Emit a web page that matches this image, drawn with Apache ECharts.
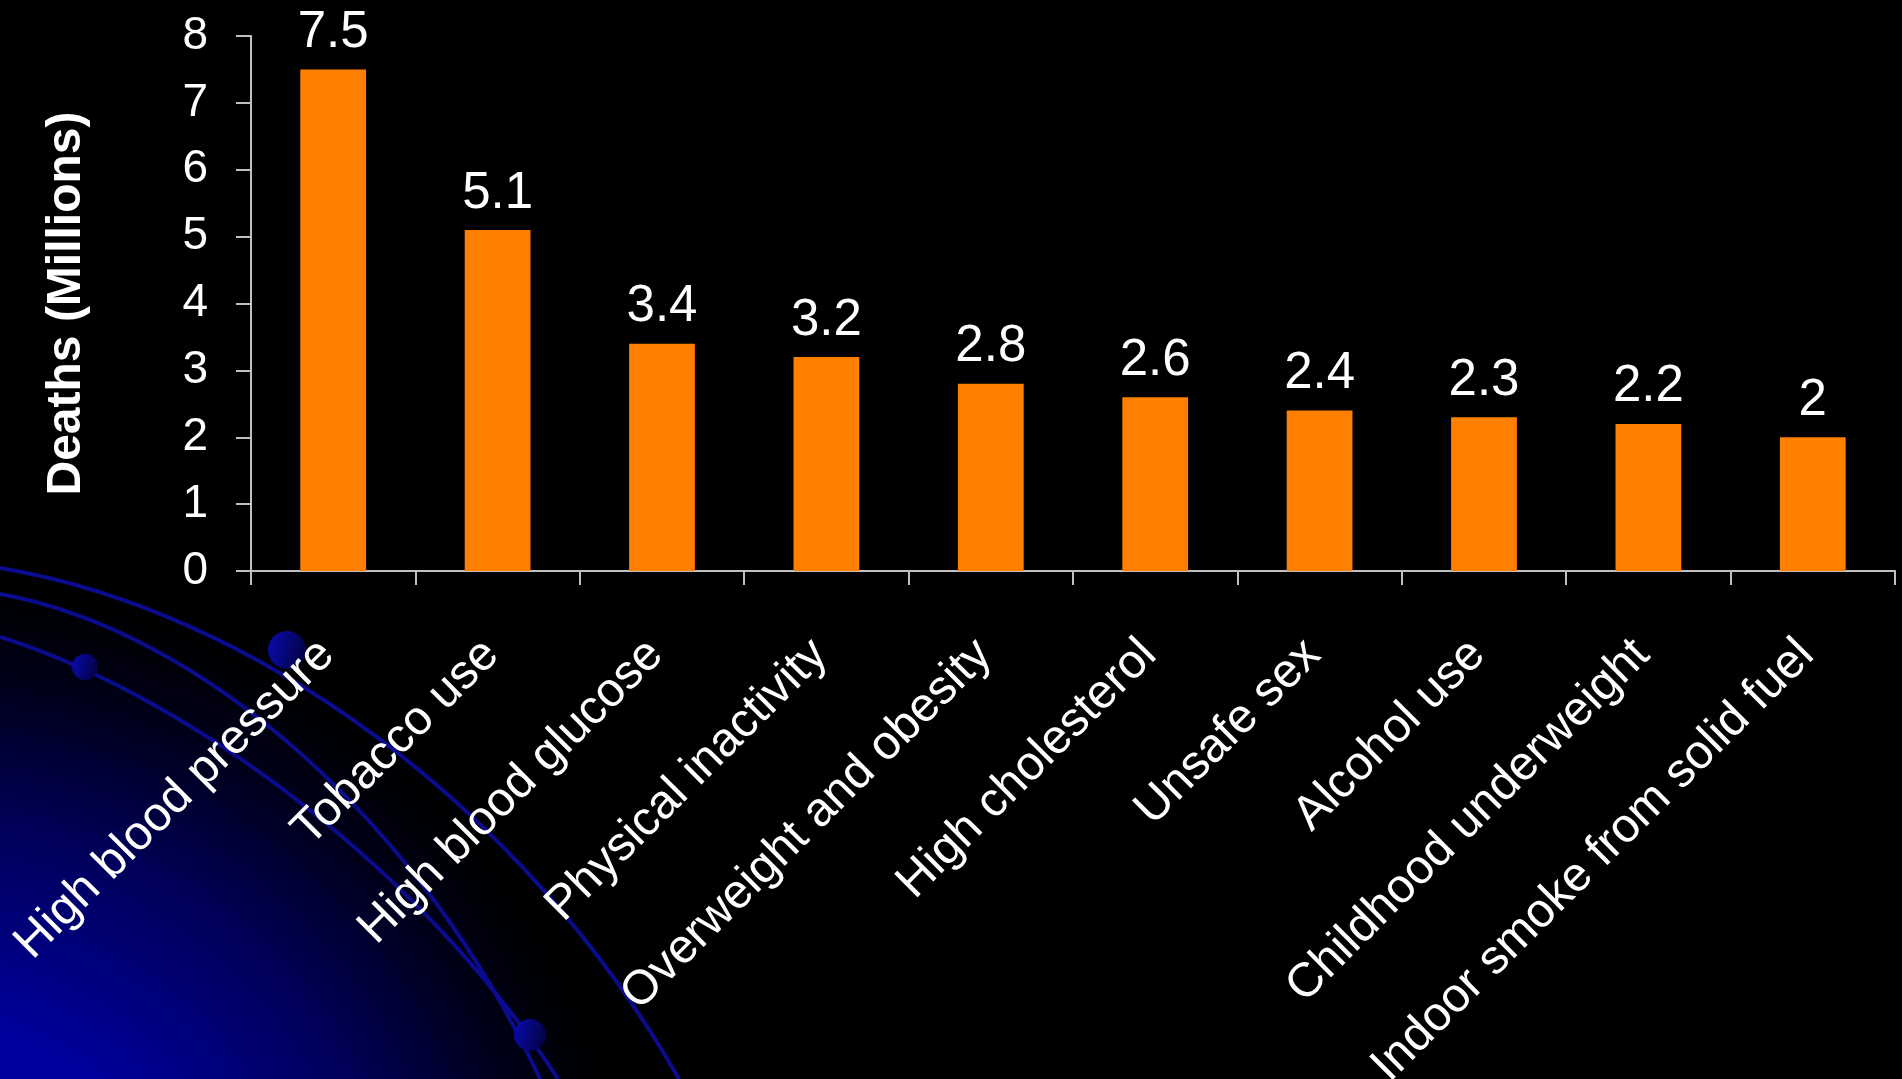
<!DOCTYPE html>
<html>
<head>
<meta charset="utf-8">
<script src="https://cdn.jsdelivr.net/npm/echarts@6/dist/echarts.min.js"></script>
<style>
  html, body { margin: 0; padding: 0; background: #000; }
  #main { width: 1902px; height: 1079px; }
</style>
</head>
<body>
<div id="main"></div>
<script type="text/javascript">
    // data
    var categories = [
        'High blood pressure', 'Tobacco use', 'High blood glucose',
        'Physical inactivity', 'Overweight and obesity', 'High cholesterol',
        'Unsafe sex', 'Alcohol use', 'Childhood underweight',
        'Indoor smoke from solid fuel'
    ];
    var deaths = [7.5, 5.1, 3.4, 3.2, 2.8, 2.6, 2.4, 2.3, 2.2, 2];
    var yTicks = [0, 1, 2, 3, 4, 5, 6, 7, 8];

    var font = 'Liberation Sans, Arial, sans-serif';
    var myChart = echarts.init(document.getElementById('main'));

    // blue "planet" decoration in the lower left corner
    var arcStyle = { stroke: '#0b0b8e', lineWidth: 4, fill: null };
    function dotFill() {
        return new echarts.graphic.LinearGradient(0, 0, 1, 0.3, [
            { offset: 0, color: '#0a0ab4' },
            { offset: 1, color: '#03034a' }
        ]);
    }
    var decor = [
        {
            type: 'rect', z: -10, silent: true,
            shape: { x: 0, y: 0, width: 1902, height: 1079 },
            style: {
                fill: new echarts.graphic.RadialGradient(-80, 1300, 800, [
                    { offset: 0, color: '#0000b4' },
                    { offset: 0.35, color: '#00009c' },
                    { offset: 0.6, color: '#00005a' },
                    { offset: 0.78, color: '#00001a' },
                    { offset: 0.9, color: '#000000' },
                    { offset: 1, color: '#000000' }
                ], true)
            }
        },
        { type: 'bezierCurve', z: -5, silent: true,
          shape: { x1: 0, y1: 568, cpx1: 250, cpy1: 610, cpx2: 520, cpy2: 800, x2: 679, y2: 1079 },
          style: arcStyle },
        { type: 'bezierCurve', z: -5, silent: true,
          shape: { x1: 0, y1: 594, cpx1: 200, cpy1: 630, cpx2: 420, cpy2: 820, x2: 540, y2: 1079 },
          style: arcStyle },
        { type: 'bezierCurve', z: -5, silent: true,
          shape: { x1: 0, y1: 637, cpx1: 200, cpy1: 700, cpx2: 430, cpy2: 880, x2: 558, y2: 1079 },
          style: arcStyle },
        { type: 'circle', z: -4, silent: true, shape: { cx: 287, cy: 650, r: 19 }, style: { fill: dotFill() } },
        { type: 'circle', z: -4, silent: true, shape: { cx: 85, cy: 667, r: 13 }, style: { fill: dotFill() } },
        { type: 'circle', z: -4, silent: true, shape: { cx: 530, cy: 1035, r: 16 }, style: { fill: dotFill() } }
    ];

    var option = {
        backgroundColor: '#000',
        animation: false,
        graphic: decor,
        grid: {
            left: 251, right: 7, top: 36, bottom: 508,
            containLabel: false, outerBoundsMode: 'none'
        },
        xAxis: {
            type: 'category',
            data: categories,
            axisLine: { lineStyle: { color: '#c0c0c0', width: 2 } },
            axisTick: { show: true, length: 14, alignWithLabel: false, lineStyle: { color: '#c0c0c0', width: 2 } },
            axisLabel: {
                interval: 0, rotate: 45, margin: 70,
                padding: [0, 9, 0, 0],
                color: '#fff', fontSize: 48, fontFamily: font
            }
        },
        yAxis: {
            type: 'value',
            min: yTicks[0], max: yTicks[yTicks.length - 1], interval: 1,
            name: 'Deaths (Millions)',
            nameLocation: 'middle',
            nameRotate: 90,
            nameGap: 160,
            nameTextStyle: { color: '#fff', fontSize: 48, fontWeight: 'bold', fontFamily: font },
            splitLine: { show: false },
            axisLine: { show: true, lineStyle: { color: '#c0c0c0', width: 2 } },
            axisTick: { show: true, length: 15, lineStyle: { color: '#c0c0c0', width: 2 } },
            axisLabel: { color: '#fff', fontSize: 46, fontFamily: font, margin: 43 }
        },
        series: [{
            name: 'Deaths',
            type: 'bar',
            data: deaths,
            barCategoryGap: '60%',
            itemStyle: { color: '#ff8000' },
            label: {
                show: true, position: 'top', distance: 11,
                color: '#fff', fontSize: 51, fontFamily: font
            }
        }]
    };

    myChart.setOption(option);
</script>
</body>
</html>
